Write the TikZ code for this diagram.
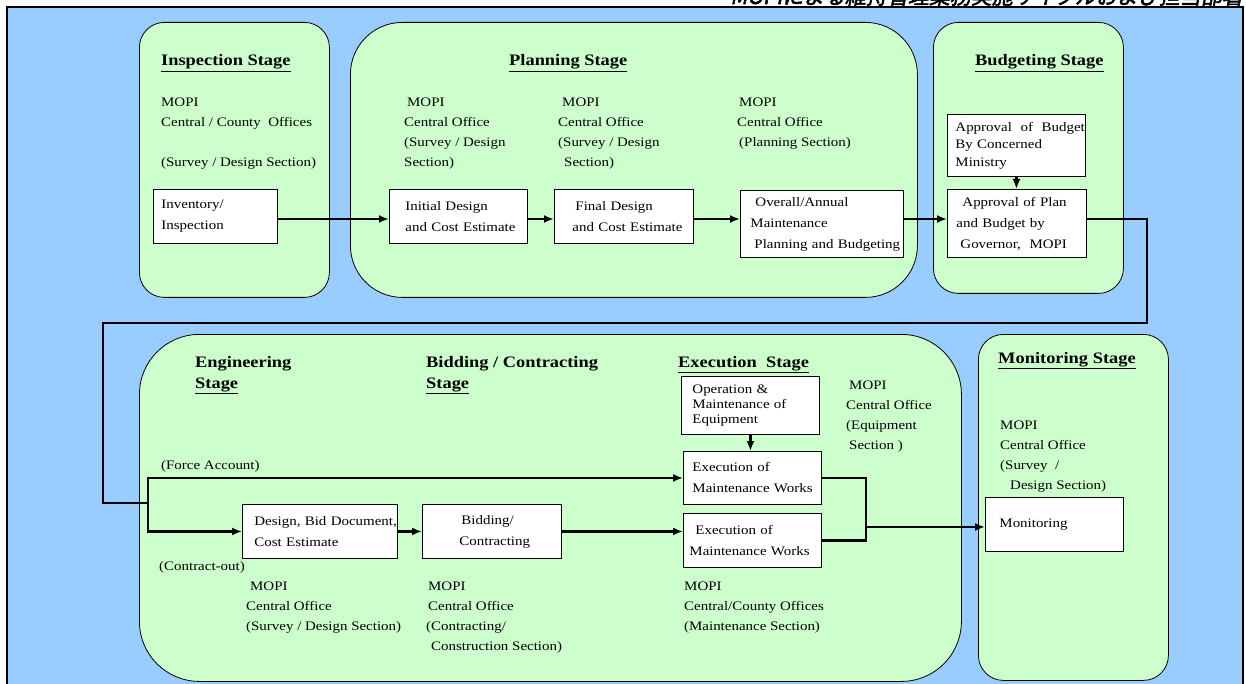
\documentclass[tikz,border=0pt]{standalone}
\usepackage{fontspec}
\setmainfont{Liberation Serif}[FakeStretch=1.15]
\newfontfamily\titlefont[FakeSlant=0.2,FakeBold=2.5]{Noto Sans CJK JP}
\usetikzlibrary{arrows.meta}
\definecolor{panelblue}{HTML}{99CCFF}
\definecolor{stagegreen}{HTML}{CCFFCC}
\tikzset{
  stage/.style={draw, fill=stagegreen, line width=0.8pt, rounded corners=25, anchor=north west},
  task/.style={draw, fill=white, line width=0.9pt, anchor=north west, inner sep=0pt,
    align=left, font=\fontsize{13}{21}\selectfont},
  % base of a note is the base line of its last line
  note/.style={anchor=base west, inner sep=0pt, align=left, font=\fontsize{13}{20}\selectfont},
  head/.style={anchor=base west, inner sep=0pt, align=left, font=\fontsize{16}{21}\selectfont\bfseries},
  flow/.style={-{Latex[length=10pt,width=8pt]}, line width=2.6pt},
  link/.style={line width=2.6pt},
}

\begin{document}
\begin{tikzpicture}[x=1pt,y=-1pt]
    \useasboundingbox (0,0) rectangle (1246,684);
    \clip (0,0) rectangle (1246,684);
    % backdrop and heading
    \fill[panelblue] (7,7) rectangle (1243,700);
    \draw[line width=2.5pt] (7,700) -- (7,7) -- (1243,7) -- (1243,700);
    \node[anchor=base east, inner sep=0pt, font=\titlefont\fontsize{21}{21}\selectfont] (title)
        at (1243,4) {MOPIによる維持管理業務実施サイクルおよび担当部署};
    % stages
    \node[stage, minimum width=190, minimum height=275] (inspst) at (139,22) {};
    \node[stage, rounded corners=52, minimum width=567, minimum height=275] (planst) at (350,22) {};
    \node[stage, minimum width=190, minimum height=271] (budst) at (933,22) {};
    \node[stage, rounded corners=60, minimum width=822, minimum height=347] (execst) at (139,334) {};
    \node[stage, minimum width=190, minimum height=346] (monst) at (978,334) {};
    % stage titles
    \node[head] (insph) at (161,66) {\underline{Inspection Stage}};
    \node[head] (planh) at (509,66) {\underline{Planning Stage}};
    \node[head] (budh) at (975,66) {\underline{Budgeting Stage}};
    \node[head] (engh) at (195,388) {Engineering\\\underline{Stage}};
    \node[head] (bidh) at (426,388) {Bidding / Contracting\\\underline{Stage}};
    \node[head] (exeh) at (678,367) {\underline{Execution~~Stage}};
    \node[head] (monh) at (998,363) {\underline{Monitoring Stage}};
    % offices in charge
    \node[note] (inspn) at (161,167) {MOPI\\Central / County~~Offices\\[20pt](Survey / Design Section)};
    \node[note] (plan1n) at (404,167) {\hspace*{3pt}MOPI\\Central Office\\(Survey / Design\\Section)};
    \node[note] (plan2n) at (558,167) {\hspace*{4pt}MOPI\\Central Office\\(Survey / Design\\\hspace*{6pt}Section)};
    \node[note] (plan3n) at (737,147) {\hspace*{2pt}MOPI\\Central Office\\\hspace*{2pt}(Planning Section)};
    \node[note] (equipn) at (846,449) {\hspace*{3pt}MOPI\\Central Office\\(Equipment\\\hspace*{3pt}Section )};
    \node[note] (forcen) at (161,469) {(Force Account)};
    \node[note] (contrn) at (159,570) {(Contract-out)};
    \node[note] (engn) at (246,630) {\hspace*{4pt}MOPI\\Central Office\\(Survey / Design Section)};
    \node[note] (bidn) at (426,650) {\hspace*{2pt}MOPI\\\hspace*{2pt}Central Office\\(Contracting/\\\hspace*{5pt}Construction Section)};
    \node[note] (exen) at (684,630) {MOPI\\Central/County Offices\\(Maintenance Section)};
    \node[note] (monn) at (1000,489) {MOPI\\Central Office\\(Survey~~/\\\hspace*{10pt}Design Section)};
    % tasks, upper row
    \node[task, text width=124, minimum height=54] (inv) at (153,189)
        {\hspace*{8pt}Inventory/\\\hspace*{8pt}Inspection};
    \node[task, text width=138, minimum height=54] (ini) at (389,189)
        {\hspace*{16pt}Initial~Design\\\hspace*{16pt}and~Cost~Estimate};
    \node[task, text width=139, minimum height=54] (fin) at (554,189)
        {\hspace*{21pt}Final~Design\\\hspace*{18pt}and~Cost~Estimate};
    \node[task, text width=163, minimum height=67] (ovr) at (740,190)
        {\hspace*{15pt}Overall/Annual\\\hspace*{10pt}Maintenance\\\hspace*{14pt}Planning~and~Budgeting};
    \node[task, text width=138, minimum height=62, font=\fontsize{13}{17.5}\selectfont] (min) at (947,114)
        {\hspace*{8pt}Approval~~of~~Budget\\\hspace*{8pt}By~Concerned\\\hspace*{8pt}Ministry};
    \node[task, text width=139, minimum height=68] (apv) at (947,189)
        {\hspace*{15pt}Approval~of~Plan\\\hspace*{9pt}and~Budget~by\\\hspace*{13pt}Governor,~~MOPI};
    % tasks, lower row
    \node[task, text width=155, minimum height=54] (dsg) at (242,504)
        {\hspace*{12pt}Design,~Bid~Document,\\\hspace*{12pt}Cost~Estimate};
    \node[task, text width=139, minimum height=54] (bid) at (422,504)
        {\hspace*{39pt}Bidding/\\\hspace*{37pt}Contracting};
    \node[task, text width=138, minimum height=58, font=\fontsize{13}{15}\selectfont] (opm) at (681,376)
        {\hspace*{11pt}Operation~\&\\\hspace*{11pt}Maintenance~of\\\hspace*{11pt}Equipment};
    \node[task, text width=138, minimum height=53] (ex1) at (683,451)
        {\hspace*{9pt}Execution~of\\\hspace*{9pt}Maintenance~Works};
    \node[task, text width=138, minimum height=54] (ex2) at (683,513)
        {\hspace*{12pt}Execution~of\\\hspace*{6pt}Maintenance~Works};
    \node[task, text width=138, minimum height=54] (mon) at (985,497)
        {\hspace*{14pt}Monitoring};
    % upper flow
    \coordinate (toprow) at (0,219);
    \draw[flow] (inv.east |- toprow) -- (ini.west |- toprow);
    \draw[flow] (ini.east |- toprow) -- (fin.west |- toprow);
    \draw[flow] (fin.east |- toprow) -- (ovr.west |- toprow);
    \draw[flow] (ovr.east |- toprow) -- (apv.west |- toprow);
    \draw[flow] (min.south) -- (min.south |- apv.north);
    % carry over to the lower row
    \coordinate (upright) at (1147,323);
    \coordinate (upleft) at (103,323);
    \coordinate (split) at (148,503);
    \draw[link] (apv.east |- toprow) -| (upright) -- (upleft) |- (split);
    \draw[flow] (split) |- (ex1.west);
    \draw[flow] (split) |- (dsg.west);
    \draw[flow] (dsg.east) -- (bid.west);
    \draw[flow] (bid.east) -- (bid.east -| ex2.west);
    \draw[flow] (opm.south) -- (opm.south |- ex1.north);
    % both executions lead to monitoring
    \coordinate (merge) at (866,527);
    \draw[link] (ex1.east) -| (merge) |- (ex2.east);
    \draw[flow] (merge) -- (merge -| mon.west);
\end{tikzpicture}
\end{document}
